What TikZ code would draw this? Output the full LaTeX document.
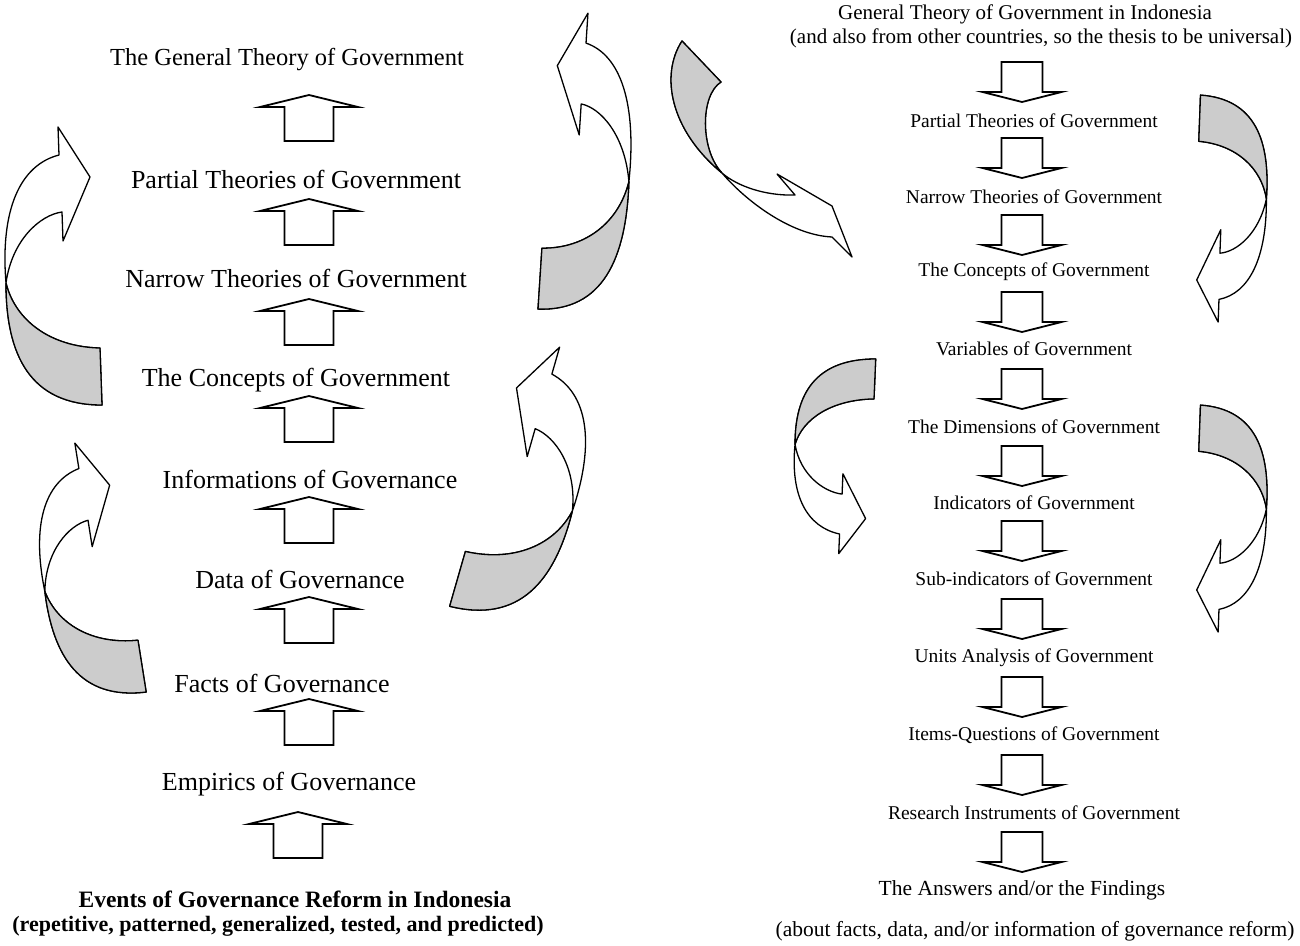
\documentclass[tikz,border=0pt]{standalone}
\usepackage{fontspec}
\setmainfont{Liberation Serif}

\tikzset{
  lab/.style={font=\fontsize{26}{30}\selectfont},
  rlab/.style={font=\fontsize{19.5}{23}\selectfont},
  blab/.style={font=\fontsize{22}{26}\selectfont\bfseries},
  blk/.style={draw,line width=1.8pt,fill=white,line join=miter},
  curvy/.style={draw,line width=1.3pt,line join=round,fill=white},
  shade/.style={fill=gray!40,draw=black,line width=1.3pt,line join=round},
  uparr/.pic={\draw[blk] (-24.5,23) -- (-24.5,-11) -- (-49,-11) -- (0,-23) -- (49,-11) -- (24.5,-11) -- (24.5,23) -- cycle;},
  downarr/.pic={\draw[blk] (-20.5,-20) -- (-20.5,10) -- (-39.5,10) -- (0,20) -- (39.5,10) -- (20.5,10) -- (20.5,-20) -- cycle;},
  twist/.pic={
    \draw[curvy] (8,-138) -- (40,-88) -- (13,-24) -- (12,-53) .. controls (-10,-50) and (-38,-25) .. (-44,18)
      .. controls (-35,55) and (0,82) .. (50,83) -- (52,140) .. controls (-20,140) and (-44,90) .. (-44,18)
      .. controls (-50,-55) and (-30,-100) .. (9,-110) -- cycle;
    \path[shade] (-44,18) .. controls (-35,55) and (0,82) .. (50,83) -- (52,140)
      .. controls (-20,140) and (-44,90) .. (-44,18) -- cycle;
  }
}

\begin{document}
\begin{tikzpicture}[x=1pt,y=-1pt]
\useasboundingbox (0,0) rectangle (1300,945);

% left column: from events up to the general theory
\node[lab,font=\fontsize{24.5}{28}\selectfont] (gen) at (287,60) {The General Theory of Government};
\node[lab] (par) at (296,179) {Partial Theories of Government};
\node[lab] (nar) at (296,278) {Narrow Theories of Government};
\node[lab] (con) at (296,380) {The Concepts of Government};
\node[lab] (inf) at (310,479) {Informations of Governance};
\node[lab] (dat) at (300,579) {Data of Governance};
\node[lab] (fac) at (282,683) {Facts of Governance};
\node[lab] (emp) at (289,784) {Empirics of Governance};
\node[blab,font=\fontsize{23.5}{27}\selectfont\bfseries] (ev) at (295,899) {Events of Governance Reform in Indonesia};
\node[blab] (evsub) at (278,926) {(repetitive, patterned, generalized, tested, and predicted)};

\foreach \y in {118,222,322,419,520,620,722} {
    \pic at (309,\y) {uparr};
}
\pic at (298,835) {uparr};

% right column: from the general theory down to the findings
\node[rlab,font=\fontsize{21}{24}\selectfont] (rgen) at (1025,14) {General Theory of Government in Indonesia};
\node[rlab,font=\fontsize{21}{24}\selectfont] (rgensub) at (1041,38) {(and also from other countries, so the thesis to be universal)};
\node[rlab] (rpar) at (1034,121) {Partial Theories of Government};
\node[rlab] (rnar) at (1034,197) {Narrow Theories of Government};
\node[rlab] (rcon) at (1034,272) {The Concepts of Government};
\node[rlab] (rvar) at (1034,349) {Variables of Government};
\node[rlab] (rdim) at (1034,427) {The Dimensions of Government};
\node[rlab] (rind) at (1034,503) {Indicators of Government};
\node[rlab] (rsub) at (1034,579) {Sub-indicators of Government};
\node[rlab] (runi) at (1034,658) {Units Analysis of Government};
\node[rlab] (rite) at (1034,735) {Items-Questions of Government};
\node[rlab] (rres) at (1034,813) {Research Instruments of Government};
\node[rlab,font=\fontsize{21.5}{25}\selectfont] (rans) at (1022,890) {The Answers and/or the Findings};
\node[rlab,font=\fontsize{21.5}{25}\selectfont] (ransub) at (1035,931) {(about facts, data, and/or information of governance reform)};

\foreach \y in {82,158,235,312,389,466,541,619,697,775,852} {
    \pic at (1022,\y) {downarr};
}

% curved arrows
\pic at (50,265) {twist};
\pic[rotate=7,xscale=0.92,yscale=0.92] at (83,570) {twist};
\pic[rotate=-2,xscale=-0.9,yscale=1.07] at (590,161) {twist};
\pic[rotate=-14,xscale=-1] at (534,483) {twist};
\pic[rotate=-4,xscale=-0.76,yscale=-0.81] at (1232,211) {twist};
\pic[rotate=-4,xscale=-0.76,yscale=-0.81] at (1232,521) {twist};
\pic[xscale=0.84,yscale=-0.70] at (832,457) {twist};

% the one that crosses over to the right column
\draw[curvy] (682,41) -- (721,82) .. controls (700,95) and (700,150) .. (722,173)
    .. controls (737,186) and (765,196) .. (795,195) -- (777,174) -- (832,206) -- (852,257) -- (832,237)
    .. controls (790,235) and (745,200) .. (722,173) .. controls (670,130) and (660,75) .. (682,41) -- cycle;
\path[shade] (682,41) .. controls (660,75) and (670,130) .. (722,173)
    .. controls (700,150) and (700,95) .. (721,82) -- cycle;
\end{tikzpicture}
\end{document}
